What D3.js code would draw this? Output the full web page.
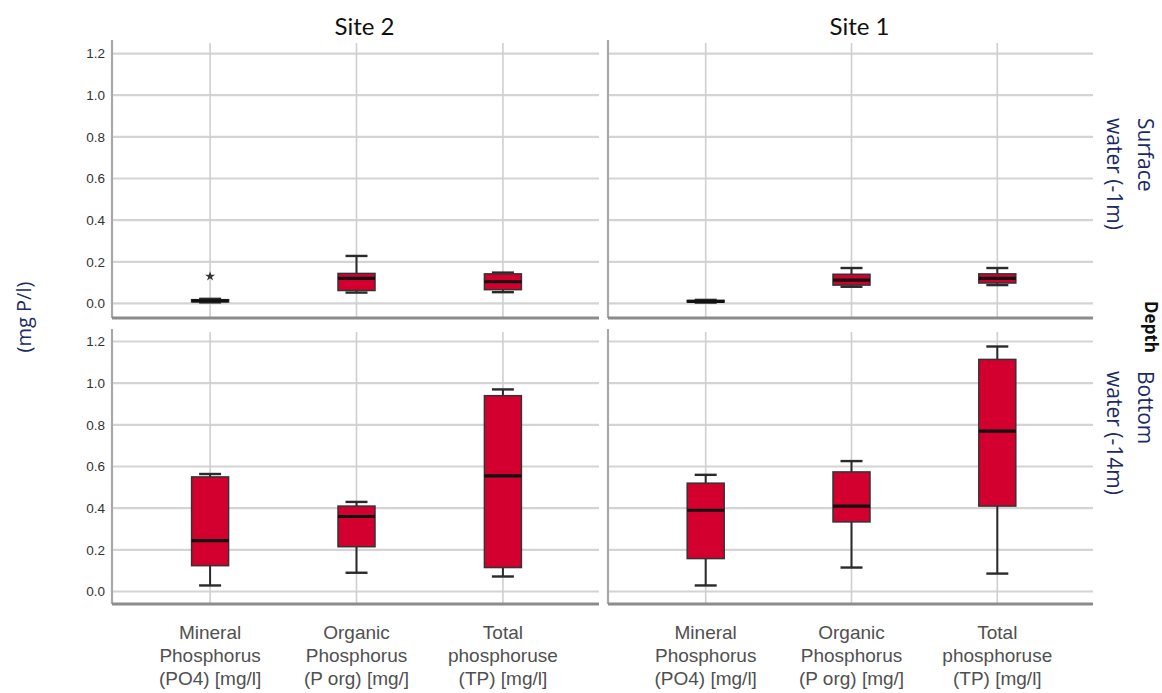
<!DOCTYPE html>
<html>
<head>
<meta charset="utf-8">
<script src="https://cdn.jsdelivr.net/npm/d3@7"></script>
<style>
  html, body { margin: 0; padding: 0; background: #ffffff; }
  svg { display: block; }
</style>
</head>
<body>
<svg id="chart" width="1162" height="693"></svg>
<script>
// Phosphorus fractions by site (columns) and depth (rows)
const sites = ["Site 2", "Site 1"];
const depthRows = ["surface", "bottom"];
const depthLabels = [["Surface", "water (-1m)"], ["Bottom", "water (-14m)"]];
const categories = ["PO4", "Porg", "TP"];
const categoryLabels = [
  ["Mineral", "Phosphorus", "(PO4) [mg/l]"],
  ["Organic", "Phosphorus", "(P org)  [mg/]"],
  ["Total", "phosphoruse", "(TP)  [mg/l]"]
];
const yTicks = [0.0, 0.2, 0.4, 0.6, 0.8, 1.0, 1.2];

// Box statistics per category: [min, q1, median, q3, max]
const site2Surface = [
  [0.005, 0.008, 0.012, 0.018, 0.022],
  [0.052, 0.062, 0.120, 0.144, 0.228],
  [0.054, 0.066, 0.104, 0.142, 0.148]
];
const site2SurfaceOutliers = [[0.13], [], []];
const site1Surface = [
  [0.004, 0.007, 0.010, 0.014, 0.017],
  [0.080, 0.088, 0.112, 0.140, 0.170],
  [0.088, 0.098, 0.120, 0.142, 0.170]
];
const site2Bottom = [
  [0.029, 0.124, 0.244, 0.550, 0.564],
  [0.090, 0.215, 0.360, 0.410, 0.430],
  [0.072, 0.115, 0.555, 0.940, 0.970]
];
const site1Bottom = [
  [0.029, 0.158, 0.390, 0.520, 0.560],
  [0.115, 0.334, 0.410, 0.574, 0.626],
  [0.086, 0.410, 0.770, 1.114, 1.176]
];

const panelData = {
  "Site 2": { surface: site2Surface, bottom: site2Bottom },
  "Site 1": { surface: site1Surface, bottom: site1Bottom }
};
const panelOutliers = {
  "Site 2": { surface: site2SurfaceOutliers, bottom: [[], [], []] },
  "Site 1": { surface: [[], [], []], bottom: [[], [], []] }
};

const svg = d3.select("#chart");

// Panel geometry
const colExtents = { "Site 2": [112, 601], "Site 1": [608, 1095] };
const rowExtents = { surface: [318, 40], bottom: [604, 329] };
const rowDomains = { surface: [-0.07, 1.265], bottom: [-0.06, 1.26] };

const boxWidth = 37;
const capWidth = 22;
const boxFill = "#d3002f";

sites.forEach((site, ci) => {
  const x = d3.scalePoint().domain(categories).range(colExtents[site]).padding(0.67);

  depthRows.forEach((row, ri) => {
    const y = d3.scaleLinear().domain(rowDomains[row]).range(rowExtents[row]);
    const [x0, x1] = colExtents[site];
    const [yb, yt] = rowExtents[row];
    const g = svg.append("g");

    // horizontal grid
    g.append("g").selectAll("line").data(yTicks).join("line")
      .attr("x1", x0).attr("x2", x1 - 2)
      .attr("y1", d => y(d)).attr("y2", d => y(d))
      .attr("stroke", "#d4d4d4").attr("stroke-width", 2.2);

    // vertical grid at each category
    g.append("g").selectAll("line").data(categories).join("line")
      .attr("x1", d => x(d)).attr("x2", d => x(d))
      .attr("y1", yt + 3).attr("y2", yb)
      .attr("stroke", "#cfcfcf").attr("stroke-width", 1.6);

    // left axis
    const yAxis = d3.axisLeft(y).tickValues(yTicks).tickSize(0).tickPadding(7)
      .tickFormat(d3.format(".1f"));
    const ya = g.append("g").attr("transform", `translate(${x0},0)`).call(yAxis);
    ya.attr("font-size", null).attr("font-family", null);
    ya.select(".domain").attr("d", `M0,${yt}V${yb}`)
      .attr("stroke", "#a8a8a8").attr("stroke-width", 2.2);
    ya.selectAll("text")
      .attr("font-family", "'Liberation Sans', Arial, sans-serif")
      .attr("font-size", 13.5).attr("fill", "#333333")
      .style("display", ci === 0 ? null : "none");

    // bottom axis
    const xAxis = d3.axisBottom(x).tickSize(0).tickFormat("");
    const xa = g.append("g").attr("transform", `translate(0,${yb})`).call(xAxis);
    xa.select(".domain").attr("d", `M${x0},0H${x1 - 2}`)
      .attr("stroke", "#8c8c8c").attr("stroke-width", 3);

    // boxes
    const stats = panelData[site][row];
    const boxes = g.append("g").selectAll("g").data(categories).join("g")
      .attr("transform", d => `translate(${x(d)},0)`);

    boxes.append("line")
      .attr("x1", 0).attr("x2", 0)
      .attr("y1", (d, i) => y(stats[i][0])).attr("y2", (d, i) => y(stats[i][4]))
      .attr("stroke", "#2a2a2a").attr("stroke-width", 2);
    boxes.append("line")
      .attr("x1", -capWidth / 2).attr("x2", capWidth / 2)
      .attr("y1", (d, i) => y(stats[i][4])).attr("y2", (d, i) => y(stats[i][4]))
      .attr("stroke", "#2a2a2a").attr("stroke-width", 2.4);
    boxes.append("line")
      .attr("x1", -capWidth / 2).attr("x2", capWidth / 2)
      .attr("y1", (d, i) => y(stats[i][0])).attr("y2", (d, i) => y(stats[i][0]))
      .attr("stroke", "#2a2a2a").attr("stroke-width", 2.4);
    boxes.append("rect")
      .attr("x", -boxWidth / 2).attr("width", boxWidth)
      .attr("y", (d, i) => y(stats[i][3]))
      .attr("height", (d, i) => Math.max(1, y(stats[i][1]) - y(stats[i][3])))
      .attr("fill", boxFill).attr("stroke", "#333333").attr("stroke-width", 1.5);
    boxes.append("line")
      .attr("x1", -boxWidth / 2).attr("x2", boxWidth / 2)
      .attr("y1", (d, i) => y(stats[i][2])).attr("y2", (d, i) => y(stats[i][2]))
      .attr("stroke", "#111111").attr("stroke-width", 3.2);

    // outliers
    const outs = panelOutliers[site][row];
    categories.forEach((c, i) => {
      g.append("g").selectAll("path").data(outs[i]).join("path")
        .attr("d", d3.symbol(d3.symbolStar, 30))
        .attr("transform", d => `translate(${x(c)},${y(d)})`)
        .attr("fill", "#333333");
    });

    // category labels under the bottom row
    if (row === "bottom") {
      const lab = svg.append("g").selectAll("text").data(categories).join("text")
        .attr("x", d => x(d))
        .attr("y", 639)
        .attr("text-anchor", "middle")
        .attr("font-family", "'Liberation Sans Narrow', 'Liberation Sans', Arial, sans-serif")
        .attr("font-size", 19).attr("fill", "#505050");
      lab.selectAll("tspan").data((d, i) => categoryLabels[i]).join("tspan")
        .attr("x", function () { return d3.select(this.parentNode).attr("x"); })
        .attr("dy", (d, j) => j === 0 ? 0 : 23)
        .text(d => d);
    }
  });

  // site title
  svg.append("text")
    .attr("x", (colExtents[site][0] + colExtents[site][1]) / 2 + 8)
    .attr("y", 35)
    .attr("text-anchor", "middle")
    .attr("font-family", "Lato, 'Open Sans', sans-serif")
    .attr("font-size", 24).attr("fill", "#111111")
    .text(site);
});

// y axis title
svg.append("text")
  .attr("transform", "translate(31,317) rotate(-90)")
  .attr("text-anchor", "middle")
  .attr("font-family", "'Open Sans', 'Noto Sans', sans-serif")
  .attr("font-size", 20).attr("fill", "#1c2a66")
  .text("(mg P/l)");

// depth facet labels on the right
depthRows.forEach((row, ri) => {
  const startY = ri === 0 ? 118 : 371;
  const t = svg.append("text")
    .attr("transform", `translate(1138,${startY}) rotate(90)`)
    .attr("font-family", "'Open Sans', 'Noto Sans', sans-serif")
    .attr("font-size", 21).attr("fill", "#1c2a66");
  t.selectAll("tspan").data(depthLabels[ri]).join("tspan")
    .attr("x", 0)
    .attr("dy", (d, j) => j === 0 ? 0 : 31)
    .text(d => d);
});

svg.append("text")
  .attr("transform", "translate(1145,327) rotate(90)")
  .attr("text-anchor", "middle")
  .attr("font-family", "'Open Sans', 'Noto Sans', sans-serif")
  .attr("font-size", 17).attr("font-weight", "bold").attr("fill", "#111111")
  .text("Depth");
</script>
</body>
</html>
